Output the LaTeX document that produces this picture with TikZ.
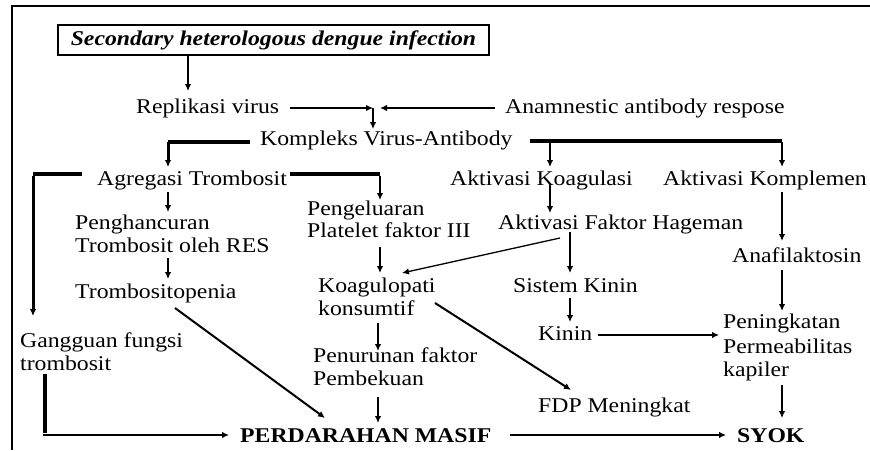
\documentclass[tikz,border=0pt]{standalone}
\usepackage{fontspec}
\setmainfont{Liberation Serif}[FakeStretch=1.13]
\usetikzlibrary{arrows.meta}
\begin{document}
\begin{tikzpicture}[x=1pt,y=-1pt,
  lbl/.style={anchor=base west,inner sep=0pt,font=\fontsize{21}{24}\selectfont},
  blbl/.style={lbl,font=\fontsize{21}{24}\selectfont\bfseries},
  tip/.style={-{Latex[length=7pt,width=6.5pt]}},
  thin/.style={tip,line width=1.3pt},
  mid/.style={tip,line width=2pt},
  heavy/.style={line width=3.5pt},
  frame/.style={line width=1.3pt}]
\useasboundingbox (0,0) rectangle (870,450);
\draw[frame] (12,450) -- (12,6) -- (870,6);
% title
\node[draw,line width=1.3pt,minimum width=431pt,minimum height=30pt,inner sep=0pt,
  font=\fontsize{21}{24}\selectfont\bfseries\itshape] (title) at (273.5,40) {Secondary heterologous dengue infection};
% labels
\node[lbl] (repl) at (136,113) {Replikasi virus};
\node[lbl] (anam) at (505,113) {Anamnestic antibody respose};
\node[lbl] (komp) at (260,145) {Kompleks Virus-Antibody};
\node[lbl] (agreg) at (97,185) {Agregasi Trombosit};
\node[lbl] (akoag) at (450,185) {Aktivasi Koagulasi};
\node[lbl] (akomp) at (663,185) {Aktivasi Komplemen};
\node[lbl] (hage) at (498,229) {Aktivasi Faktor Hageman};
\node[lbl] (peng1) at (75,229) {Penghancuran};
\node[lbl] (peng2) at (75,252) {Trombosit oleh RES};
\node[lbl] (pf1) at (307,215) {Pengeluaran};
\node[lbl] (pf2) at (307,237) {Platelet faktor III};
\node[lbl] (tromb) at (75,298) {Trombositopenia};
\node[lbl] (koag1) at (318,292) {Koagulopati};
\node[lbl] (koag2) at (318,315) {konsumtif};
\node[lbl] (sk) at (513,292) {Sistem Kinin};
\node[lbl] (anaf) at (732,262) {Anafilaktosin};
\node[lbl] (kinin) at (538,340) {Kinin};
\node[lbl] (pn1) at (723,328) {Peningkatan};
\node[lbl] (pn2) at (723,353) {Permeabilitas};
\node[lbl] (pn3) at (723,376) {kapiler};
\node[lbl] (gg1) at (20,347) {Gangguan fungsi};
\node[lbl] (gg2) at (20,370) {trombosit};
\node[lbl] (pen1) at (313,362) {Penurunan faktor};
\node[lbl] (pen2) at (313,385) {Pembekuan};
\node[lbl] (fdp) at (538,412) {FDP Meningkat};
\node[blbl] (perd) at (240,442) {PERDARAHAN MASIF};
\node[blbl] (syok) at (737,442) {SYOK};
% junction coordinates
\coordinate (j1) at (373,108);
\coordinate (jl) at (168,142);
\coordinate (jr1) at (550,141);
\coordinate (jr2) at (782,141);
\coordinate (ja1) at (33,174);
\coordinate (ja2) at (380,174);
\coordinate (jg) at (45,435);
% connectors
\draw[mid] (title.south -| 188,0) -- (188,91);
\draw[thin] (290,108) -- (j1);
\draw[thin] (495,108) -- (380,108);
\draw[mid] (j1) -- (373,129);
\draw[heavy] (250,142) -- (jl);
\draw[mid,line width=3pt] (jl) -- (168,167);
\draw[heavy] (530,141) -- (jr2);
\draw[mid] (jr1) -- (550,167);
\draw[mid] ([yshift=-1pt]jr2) -- (782,167);
\draw[heavy] (82,174) -- (ja1);
\draw[mid,line width=3pt] ([yshift=-1.5pt]ja1) -- (33,316);
\draw[heavy] (290,174) -- (ja2);
\draw[mid] ([yshift=-1.5pt]ja2) -- (380,200);
\draw[mid] (168,192) -- (168,212);
\draw[mid] (168,258) -- (168,279);
\draw[mid] (380,247) -- (380,273);
\draw[mid] (550,184) -- (550,213);
\draw[thin] (560,238) -- (402,273);
\draw[mid] (570,232) -- (570,273);
\draw[mid] (570,298) -- (570,322);
\draw[thin] (598,335) -- (719,335);
\draw[mid] (782,192) -- (782,241);
\draw[mid] (782,270) -- (782,311);
\draw[mid] (782,385) -- (782,418);
\draw[mid] (175,308) -- (325,418);
\draw[mid] (435,303) -- (571,390);
\draw[mid] (378,323) -- (378,351);
\draw[mid] (378,397) -- (378,423);
\draw[heavy] (45,374) -- ([yshift=1.75pt]jg);
\draw[thin] (43.25,435) -- (229,435);
\draw[thin] (510,435) -- (726,435);
\end{tikzpicture}
\end{document}
